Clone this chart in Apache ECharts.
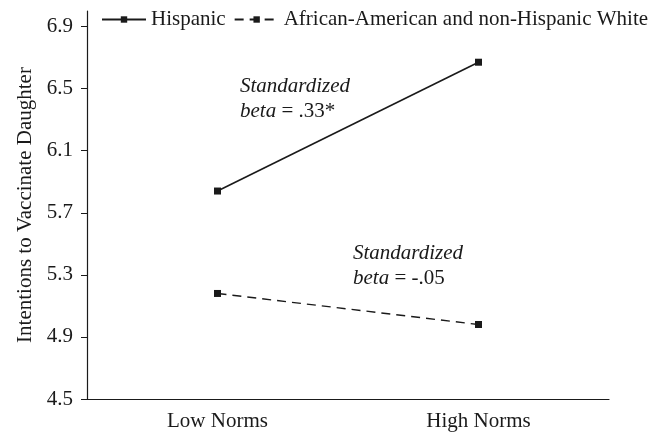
<!DOCTYPE html>
<html>
<head>
<meta charset="utf-8">
<script src="https://cdn.jsdelivr.net/npm/echarts@6/dist/echarts.min.js"></script>
<style>
  html, body { margin: 0; padding: 0; background: #fff; }
  #main { width: 662px; height: 432px; }
</style>
</head>
<body>
<div id="main"></div>
<script>
// 数据
var categories = ['Low Norms', 'High Norms'];
var hispanic = [5.84, 6.67];
var otherGroup = [5.18, 4.98];
var yTicks = [4.5, 4.9, 5.3, 5.7, 6.1, 6.5, 6.9];
var seriesNames = ['Hispanic', 'African-American and non-Hispanic White'];

var FONT = '"Liberation Serif", "DejaVu Serif", serif';
var INK = '#1a1a1a';
var FS = 21;

var chart = echarts.init(document.getElementById('main'));

function noteRich() {
  return {
    i: { fontStyle: 'italic', fontSize: FS, fontFamily: FONT, fill: INK, lineHeight: 25 },
    n: { fontSize: FS, fontFamily: FONT, fill: INK, lineHeight: 25 }
  };
}

var option = {
  backgroundColor: '#fff',
  animation: false,
  textStyle: { fontFamily: FONT, color: INK },
  grid: { left: 87, right: 53, top: 11, bottom: 33 },
  // 图例
  legend: {
    data: seriesNames,
    left: 96, top: 4,
    itemWidth: 44, itemHeight: 8, itemGap: 8,
    textStyle: { fontFamily: FONT, fontSize: FS, color: INK }
  },
  xAxis: {
    type: 'category',
    data: categories,
    boundaryGap: true,
    axisLine: { lineStyle: { color: INK, width: 1.2 } },
    axisTick: { inside: true, length: 4, lineStyle: { color: INK } },
    axisLabel: { margin: 12, fontSize: FS, color: INK, fontFamily: FONT },
    splitLine: { show: false }
  },
  yAxis: {
    type: 'value',
    min: 4.5,
    max: 7.0,
    name: 'Intentions to Vaccinate Daughter',
    nameLocation: 'middle',
    nameGap: 50,
    nameTextStyle: { fontSize: FS, color: INK, fontFamily: FONT },
    axisLine: { show: true, lineStyle: { color: INK, width: 1.2 } },
    axisTick: { show: true, length: 6, customValues: yTicks, lineStyle: { color: INK } },
    axisLabel: {
      margin: 14, fontSize: FS, color: INK, fontFamily: FONT,
      customValues: yTicks,
      formatter: function (v) { return v.toFixed(1); }
    },
    splitLine: { show: false }
  },
  series: [{
    name: seriesNames[0],
    type: 'line',
    data: hispanic,
    symbol: 'rect',
    symbolSize: 7,
    itemStyle: { color: INK },
    lineStyle: { color: INK, width: 1.6, type: 'solid' }
  }, {
    name: seriesNames[1],
    type: 'line',
    data: otherGroup,
    symbol: 'rect',
    symbolSize: 7,
    itemStyle: { color: INK },
    lineStyle: { color: INK, width: 1.4, type: [9, 6] }
  }],
  // 标注文字
  graphic: [{
    type: 'text',
    left: 240, top: 76,
    style: { text: '{i|Standardized}\n{i|beta}{n| = .33*}', rich: noteRich() }
  }, {
    type: 'text',
    left: 353, top: 243,
    style: { text: '{i|Standardized}\n{i|beta}{n| = -.05}', rich: noteRich() }
  }]
};

chart.setOption(option);
</script>
</body>
</html>
